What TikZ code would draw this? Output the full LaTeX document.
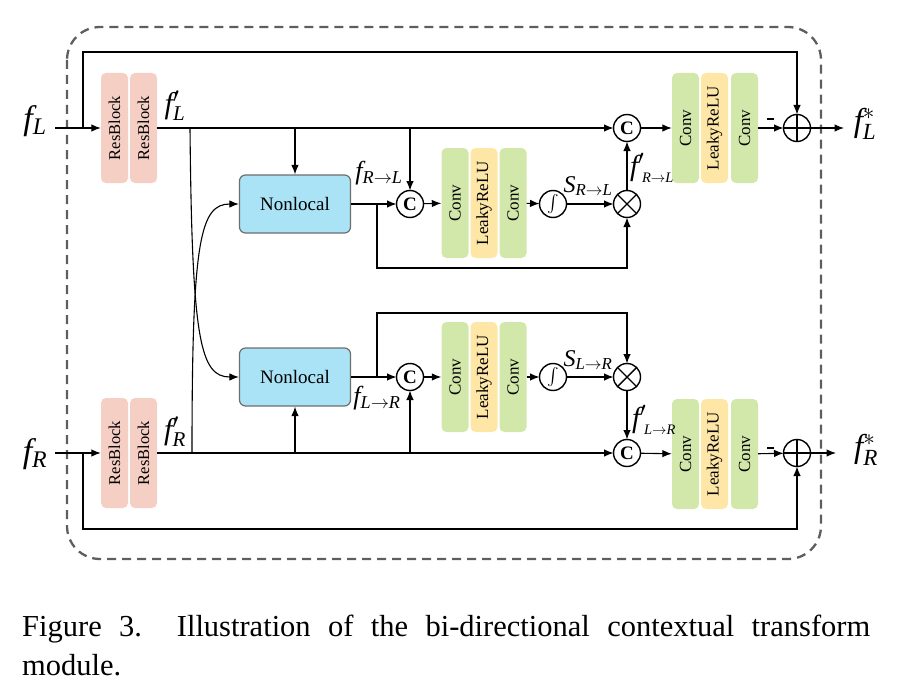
\RequirePackage{fix-cm}
\documentclass[tikz,border=0pt]{standalone}
\usepackage{graphicx}
\usepackage{exscale}
\usepackage{fontspec}
\setmainfont{Liberation Serif}
\usetikzlibrary{arrows.meta,calc}
\definecolor{resc}{HTML}{F5CEC4}
\definecolor{nlc}{HTML}{A9E3F5}
\definecolor{convc}{HTML}{D2E7AA}
\definecolor{reluc}{HTML}{FDE6A6}
\definecolor{dashc}{HTML}{5E5E5E}
\definecolor{nlborder}{HTML}{6E6E6E}
\newcommand{\fs}[1]{\fontsize{#1}{#1}\selectfont}
\newcommand{\vf}{\mathit{f}}
\begin{document}
\begin{tikzpicture}[x=1pt,y=-1pt,
  conn/.style={line width=1.1pt,-{Latex[length=9.5pt,width=7.5pt]}},
  resbox/.style={fill=resc,rounded corners=5pt,minimum width=110pt,minimum height=27pt,inner sep=0pt,rotate=90,font=\fs{16.5}},
  convbox/.style={fill=convc,rounded corners=5pt,minimum width=110pt,minimum height=27pt,inner sep=0pt,rotate=90,font=\fs{17}},
  relubox/.style={convbox,fill=reluc},
  nlbox/.style={fill=nlc,draw=nlborder,line width=1.2pt,rounded corners=6pt,minimum width=111pt,minimum height=58pt,inner sep=0pt,font=\fs{19}},
  opc/.style={circle,draw,line width=1.4pt,minimum size=27pt,inner sep=0pt,outer sep=0pt},
  catc/.style={opc,font=\bfseries\fs{19}},
  lab/.style={inner sep=0pt}
]
\useasboundingbox (0,0) rectangle (899,682);
% dashed module border
\draw[dashc,line width=2.3pt,dash pattern=on 9pt off 6pt,rounded corners=33pt] (67,27) rectangle (821,559);

% resblocks
\node[resbox] (rbL1) at (114.5,128) {ResBlock};
\node[resbox] (rbL2) at (143.5,128) {ResBlock};
\node[resbox] (rbR1) at (114.5,453) {ResBlock};
\node[resbox] (rbR2) at (143.5,453) {ResBlock};
% nonlocal
\node[nlbox] (nlT) at (295,204) {Nonlocal};
\node[nlbox] (nlB) at (295,377) {Nonlocal};
% concat circles
\node[catc] (cT) at (410,204) {C};
\node[catc] (cB) at (410,377) {C};
\node[catc] (c2T) at (627,128) {C};
\node[catc] (c2B) at (627,453) {C};
% conv stacks
\node[convbox] (cvT1) at (455,203) {Conv};
\node[relubox] (lrT) at (484,203) {LeakyReLU};
\node[convbox] (cvT2) at (513,203) {Conv};
\node[convbox] (cvB1) at (455,377) {Conv};
\node[relubox] (lrB) at (484,377) {LeakyReLU};
\node[convbox] (cvB2) at (513,377) {Conv};
\node[convbox] (cvT3) at (685.5,128) {Conv};
\node[relubox] (lrT2) at (714.5,128) {LeakyReLU};
\node[convbox] (cvT4) at (744.5,128) {Conv};
\node[convbox] (cvB3) at (685.5,454) {Conv};
\node[relubox] (lrB2) at (714.5,454) {LeakyReLU};
\node[convbox] (cvB4) at (744.5,454) {Conv};
% sigmoid
\node[opc,font=\fs{19}] (sgT) at (553,204) {$\int$};
\node[opc,font=\fs{19}] (sgB) at (553,377) {$\int$};
% multiply
\node[opc] (mulT) at (627,204) {};
\node[opc] (mulB) at (627,377) {};
\draw[line width=1.4pt] (mulT.north east) -- (mulT.south west) (mulT.north west) -- (mulT.south east);
\draw[line width=1.4pt] (mulB.north east) -- (mulB.south west) (mulB.north west) -- (mulB.south east);
% add
\node[opc] (addT) at (797,128) {};
\node[opc] (addB) at (797,453) {};
\draw[line width=1.4pt] (addT.north) -- (addT.south) (addT.west) -- (addT.east);
\draw[line width=1.4pt] (addB.north) -- (addB.south) (addB.west) -- (addB.east);
% minus signs
\node[fill=black,minimum width=7pt,minimum height=2.6pt,inner sep=0pt] (mT) at (770.5,119) {};
\node[fill=black,minimum width=7pt,minimum height=2.6pt,inner sep=0pt] (mB) at (770.5,448) {};

% labels
\node[lab,font=\fs{34}] (lfL) at (35,121) {$\vf_{\mathit{L}}$};
\node[lab,font=\fs{34}] (lfR) at (35,454) {$\vf_{\mathit{R}}$};
\node[lab,font=\fs{30}] (lfLp) at (175,106) {$\vf^{\prime}_{\mathit{L}}$};
\node[lab,font=\fs{30}] (lfRp) at (175,432) {$\vf^{\prime}_{\mathit{R}}$};
\node[lab,font=\fs{26}] (lfRL) at (379,173) {$\vf_{\mathit{R}\to\mathit{L}}$};
\node[lab,font=\fs{26}] (lfLR) at (377,398) {$\vf_{\mathit{L}\to\mathit{R}}$};
\node[lab,font=\fs{24}] (lSRL) at (588,186) {$\mathit{S}_{\mathit{R}\to\mathit{L}}$};
\node[lab,font=\fs{24}] (lSLR) at (588,360) {$\mathit{S}_{\mathit{L}\to\mathit{R}}$};
\node[lab,font=\fs{29}] (lfpRL) at (652,168) {$\vf^{\prime}_{\scriptscriptstyle\;\mathit{R}\to\mathit{L}}$};
\node[lab,font=\fs{29}] (lfpLR) at (654,420) {$\vf^{\prime}_{\scriptscriptstyle\;\mathit{L}\to\mathit{R}}$};
\node[lab,font=\fs{33}] (lfLs) at (865,124) {$\vf^{*}_{\mathit{L}}$};
\node[lab,font=\fs{33}] (lfRs) at (866,450) {$\vf^{*}_{\mathit{R}}$};

% coordinates
\coordinate (inL) at (55,128);
\coordinate (inR) at (55,453);
\coordinate (jL) at (83,128);
\coordinate (jR) at (83,453);
\coordinate (tl) at (83,52);
\coordinate (bl) at (83,529);
\coordinate (j1L) at (190,128);
\coordinate (j1R) at (192,453);
\coordinate (j2L) at (295,128);
\coordinate (j2R) at (295,453);
\coordinate (j3L) at (410,128);
\coordinate (j3R) at (410,453);
\coordinate (j4T) at (377,204);
\coordinate (b4T) at (377,268);
\coordinate (j4B) at (377,377);
\coordinate (b4B) at (377,313);
\coordinate (outL) at (844,128);
\coordinate (outR) at (836,453);

% top stream
\draw[conn] (inL) -- (rbL1);
\draw[conn] (jL) -- (tl) -| (addT);
\draw[conn] (rbL2) -- (c2T);
\draw[conn] (j2L) -- (nlT);
\draw[conn] (j3L) -- (cT);
\draw[conn] (j1L) .. controls (192,340) and (200,377) .. (nlB.west);
\draw[conn] (nlT) -- (cT);
\draw[conn] (j4T) -- (b4T) -| (mulT);
\draw[conn] (cT) -- (cvT1);
\draw[conn] (cvT2) -- (sgT);
\draw[conn] (sgT) -- (mulT);
\draw[conn] (mulT) -- (c2T);
\draw[conn] (c2T) -- (cvT3);
\draw[conn] (cvT4) -- (addT);
\draw[conn] (addT) -- (outL);
% bottom stream
\draw[conn] (inR) -- (rbR1);
\draw[conn] (jR) -- (bl) -| (addB);
\draw[conn] (rbR2) -- (c2B);
\draw[conn] (j2R) -- (nlB);
\draw[conn] (j3R) -- (cB);
\draw[conn] (j1R) .. controls (192,240) and (200,204) .. (nlT.west);
\draw[conn] (nlB) -- (cB);
\draw[conn] (j4B) -- (b4B) -| (mulB);
\draw[conn] (cB) -- (cvB1);
\draw[conn] (cvB2) -- (sgB);
\draw[conn] (sgB) -- (mulB);
\draw[conn] (mulB) -- (c2B);
\draw[conn] (c2B) -- (cvB3);
\draw[conn] (cvB4) -- (addB);
\draw[conn] (addB) -- (outR);

% caption
\node[lab,anchor=north west,text width=848pt,align=justify,font=\fontsize{30.5}{39}\selectfont] (cap) at (22,615)
 {\hyphenpenalty=10000 Figure 3.\ \ Illustration of the bi-directional contextual transform\linebreak module.};
\end{tikzpicture}
\end{document}
